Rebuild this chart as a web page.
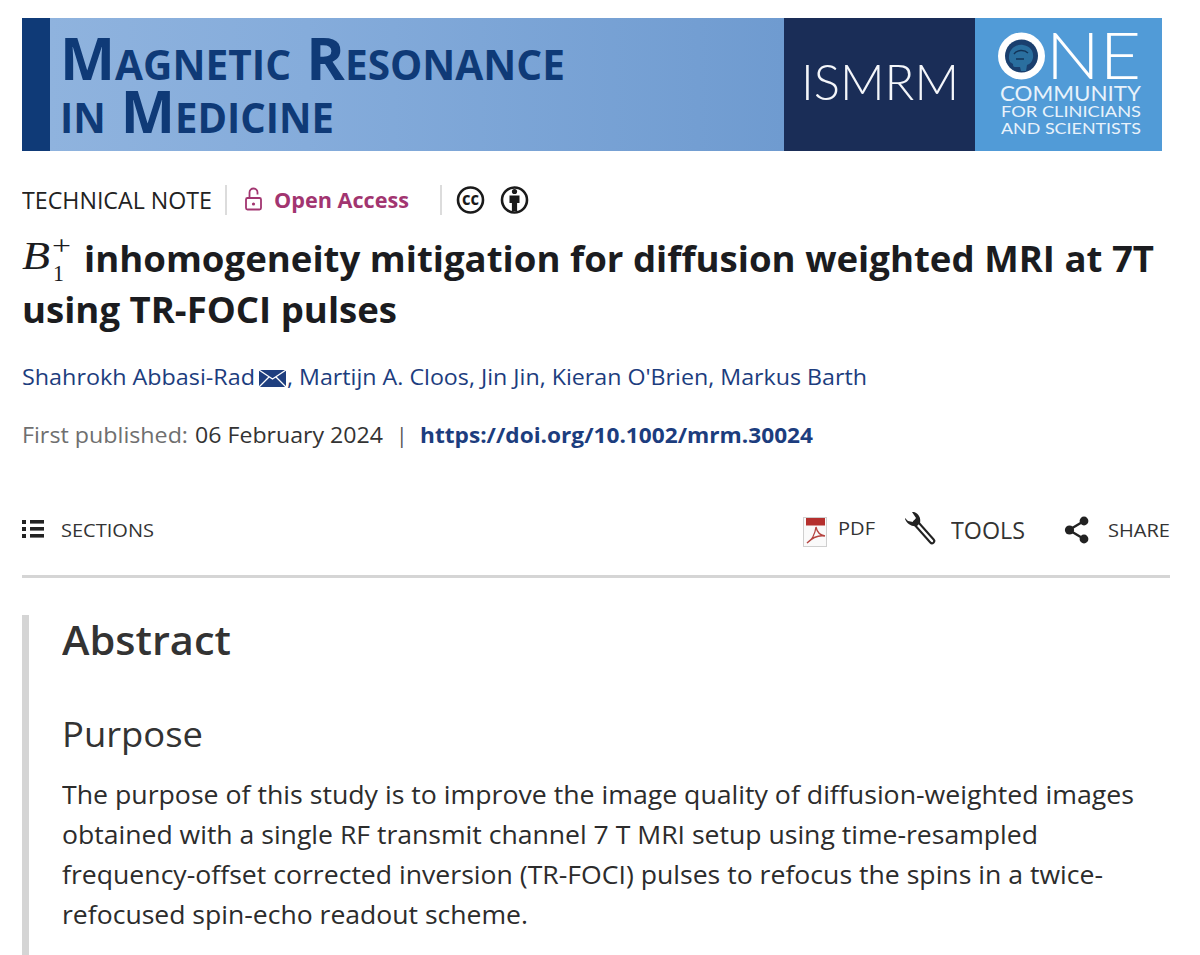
<!DOCTYPE html>
<html>
<head>
<meta charset="utf-8">
<title>B1+ inhomogeneity mitigation for diffusion weighted MRI at 7T using TR-FOCI pulses</title>
<script src="https://cdn.jsdelivr.net/npm/chart.js@4"></script>
<style>
  html, body { margin: 0; padding: 0; background: #fff; }
  #page { position: relative; width: 1200px; height: 955px; overflow: hidden; font-family: "Open Sans", "Noto Sans", sans-serif; }
  .box { position: absolute; }
  .t { position: absolute; white-space: pre; line-height: 0.72; transform-origin: 0 50%; }
  svg { position: absolute; overflow: visible; }
</style>
</head>
<body>
<div id="page">
  <!-- banner -->
  <div class="box" style="left:22px;top:18px;width:28px;height:133px;background:#0f3a77"></div>
  <div class="box" style="left:50px;top:18px;width:734px;height:133px;background:linear-gradient(90deg,#8fb3de 0%,#85acdb 35%,#6f9bd0 100%)"></div>
  <div class="box" style="left:784px;top:18px;width:191px;height:133px;background:#1a2d57"></div>
  <div class="box" style="left:975px;top:18px;width:187px;height:133px;background:#519bd7"></div>
  <svg style="left:0;top:0" width="1200" height="955">
    <!-- ONE ring and head -->
    <circle cx="1021.5" cy="56" r="23.5" fill="#fff"/>
    <circle cx="1021.5" cy="56" r="16.5" fill="#1a3f6e"/>
    <path d="M1009 59c-1-10 7-15 14-14 7 1 11 6 10 13-1 4-3 6-6 7l-1 6h-5l-1-4h-5c-2 0-2-2-2-3l-3-2z" fill="#2a6f9f"/>
    <path d="M1014 54c3-4 10-5 14-1M1016 59h8" fill="none" stroke="#123458" stroke-width="1.4"/>

    <!-- lock -->
    <rect x="246" y="198" width="15" height="11.5" rx="1.5" fill="none" stroke="#a23570" stroke-width="1.8"/>
    <path d="M249.5 198v-5.5a4 4 0 0 1 8 0v2" fill="none" stroke="#a23570" stroke-width="1.8"/>
    <circle cx="253.5" cy="204" r="1.6" fill="#a23570"/>

    <!-- separators -->
    <rect x="225" y="185" width="2" height="30" fill="#dcdcdc"/>
    <rect x="440" y="185" width="2" height="30" fill="#dcdcdc"/>

    <!-- cc and by badges -->
    <circle cx="470.5" cy="200" r="12.5" fill="none" stroke="#1a1a1a" stroke-width="2.6"/>
    <circle cx="514.5" cy="200" r="12.5" fill="none" stroke="#1a1a1a" stroke-width="2.6"/>
    <circle cx="514.5" cy="191.5" r="2.6" fill="#1a1a1a"/>
    <path d="M509.5 195.5h10v7.5h-2.4v8h-5.2v-8h-2.4z" fill="#1a1a1a"/>

    <!-- mail icon -->
    <path d="M259 370h27v17h-27z" fill="#1f3f7f"/>
    <path d="M259 370l13.5 9 13.5-9M259 387l10-10M286 387l-10-10" fill="none" stroke="#fff" stroke-width="1.3"/>

    <!-- sections list icon -->
    <g fill="#222">
      <rect x="22" y="520" width="4" height="4"/><rect x="30" y="520" width="14" height="3.6"/>
      <rect x="22" y="527" width="4" height="4"/><rect x="30" y="527" width="14" height="3.6"/>
      <rect x="22" y="534" width="4" height="4"/><rect x="30" y="534" width="14" height="3.6"/>
    </g>

    <!-- pdf icon -->
    <rect x="803.5" y="517.5" width="23" height="29" fill="#fafafa" stroke="#cfcfcf"/>
    <rect x="806" y="518" width="19" height="7.5" fill="#b5302e"/>
    <path d="M807 543c5-3 8-9 9-16 1 5 3 8 9 9-6-1-12 1-18 7z" fill="none" stroke="#b5433f" stroke-width="1.3"/>

    <!-- wrench icon -->
    <path d="M916 523l16 18" stroke="#222" stroke-width="6.5" stroke-linecap="round"/>
    <path d="M916 523l16 18" stroke="#fff" stroke-width="2.4" stroke-linecap="round"/>
    <path d="M905 519c2 5 7 8 12 7l3-3c1-5-1-9-6-11l-2 0 4 6-3 4-5-1-3-3z" fill="#222"/>

    <!-- share icon -->
    <path d="M1084 521l-15 9 15 9" fill="none" stroke="#222" stroke-width="2.4"/>
    <circle cx="1084" cy="521" r="4.4" fill="#222"/><circle cx="1069.5" cy="530" r="4.6" fill="#222"/><circle cx="1084" cy="539" r="4.4" fill="#222"/>
  </svg>
  <!-- rules -->
  <div class="box" style="left:22px;top:575px;width:1148px;height:3px;background:#d5d5d5"></div>
  <div class="box" style="left:22px;top:615px;width:7px;height:340px;background:#d5d5d5"></div>
</div>

<script>
// Page text
const journalLines = ['Magnetic Resonance', 'in Medicine'];
const societyName = 'ISMRM';
const communityLines = ['COMMUNITY', 'FOR CLINICIANS', 'AND SCIENTISTS'];
const titleLines = ['inhomogeneity mitigation for diffusion weighted MRI at 7T', 'using TR-FOCI pulses'];
const firstAuthor = 'Shahrokh Abbasi-Rad';
const otherAuthors = ", Martijn A. Cloos, Jin Jin, Kieran O'Brien, Markus Barth";
const abstractLines = [
  'The purpose of this study is to improve the image quality of diffusion-weighted images',
  'obtained with a single RF transmit channel 7 T MRI setup using time-resampled',
  'frequency-offset corrected inversion (TR-FOCI) pulses to refocus the spins in a twice-',
  'refocused spin-echo readout scheme.'
];

const page = document.getElementById('page');

// Place one line of text by its baseline, squeezed to the width it has in the picture
function addText(text, x, baseline, size, width, color, opts = {}) {
  const el = document.createElement('div');
  el.className = 't';
  el.textContent = text;
  el.style.left = x + 'px';
  el.style.top = (baseline - 0.748 * size) + 'px';
  el.style.fontSize = size + 'px';
  el.style.color = color;
  el.style.fontWeight = opts.weight || 400;
  if (opts.font) el.style.fontFamily = opts.font;
  if (opts.italic) el.style.fontStyle = 'italic';
  if (opts.smallCaps) el.style.fontVariant = 'small-caps';
  page.appendChild(el);
  if (width) el.style.transform = `scaleX(${width / el.getBoundingClientRect().width})`;
  return el;
}

function drawPage() {
  const navy = '#0f3a77';
  const ink = '#1b1c20';
  const link = '#1c3d7e';
  const body = '#2c2c2c';
  const lato = 'Lato, "Open Sans", sans-serif';
  const serif = '"Liberation Serif", serif';

  // Banner
  addText(journalLines[0], 60, 80, 59, 505, navy, { weight: 700, smallCaps: true });
  addText(journalLines[1], 60, 133, 59, 274, navy, { weight: 700, smallCaps: true });
  addText(societyName, 801, 101, 49, 158, '#f4f6fa', { font: lato, weight: 300 });
  addText('NE', 1046, 80, 65, 95, '#fff', { font: lato, weight: 300 });
  addText(communityLines[0], 1000, 101, 22, 141, '#e8f2fb', { font: lato });
  addText(communityLines[1], 1001, 118, 15.5, 140, '#e8f2fb', { font: lato });
  addText(communityLines[2], 1001, 135, 15.5, 140, '#e8f2fb', { font: lato });

  // Article type line
  addText('TECHNICAL NOTE', 22, 209, 23, 190, '#222');
  addText('Open Access', 274, 208, 22, 135, '#a23570', { weight: 700 });
  addText('cc', 462, 206, 17, 17, '#1a1a1a', { weight: 700 });

  // Title with the B1+ symbol
  addText('B', 22, 272, 41, 28, ink, { font: serif, italic: true });
  addText('+', 52, 257, 28, 19, ink, { font: serif });
  addText('1', 53, 283, 24, 11, ink, { font: serif });
  addText(titleLines[0], 84, 273, 36, 1070, ink, { weight: 700 });
  addText(titleLines[1], 22, 324, 36, 375, ink, { weight: 700 });

  // Authors
  addText(firstAuthor, 22, 386, 21, 233, link);
  addText(otherAuthors, 287, 386, 21, 580, link);

  // Publication line
  addText('First published:', 22, 444, 21, 166, '#6f6f6f');
  addText('06 February 2024', 195, 444, 21, 188, '#333');
  addText('|', 396, 444, 21, 0, '#555');
  addText('https://doi.org/10.1002/mrm.30024', 420, 444, 21, 393, link, { weight: 700 });

  // Toolbar
  addText('SECTIONS', 61, 538, 19, 93, '#333');
  addText('PDF', 838, 536, 19, 37, '#333');
  addText('TOOLS', 951, 539, 23, 74, '#333');
  addText('SHARE', 1108, 538, 19, 62, '#333');

  // Abstract
  addText('Abstract', 62, 656, 40, 169, '#333', { weight: 600 });
  addText('Purpose', 62, 747, 35, 141, '#333');
  const lineWidths = [1072, 976, 1041, 466];
  abstractLines.forEach((line, i) => {
    addText(line, 62, 804 + i * 40, 26, lineWidths[i], body);
  });
}

document.addEventListener('DOMContentLoaded', drawPage);
</script>
</body>
</html>
